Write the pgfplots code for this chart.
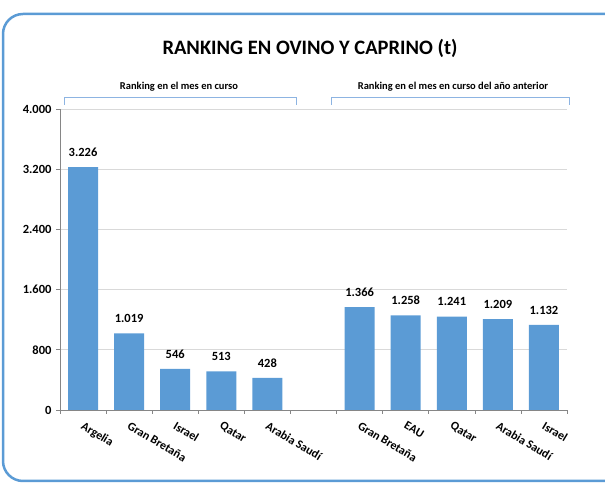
\documentclass[border=0pt]{standalone}
\usepackage{pgfplots}
\pgfplotsset{compat=1.18}
\usepackage{fontspec}
\setmainfont{Carlito}
\definecolor{barblue}{RGB}{91,155,213}
\definecolor{brk}{RGB}{141,180,226}
\definecolor{axgray}{RGB}{134,134,134}
\definecolor{gridgray}{RGB}{217,217,217}
\begin{document}
\begin{tikzpicture}
\path[use as bounding box] (0pt,0pt) rectangle (605pt,484pt);
\begin{scope}
\clip (0pt,0pt) rectangle (605pt,484pt);
\draw[barblue, line width=2.5pt, rounded corners=20pt] (3pt,3pt) rectangle (625pt,470pt);
\end{scope}
\node[font=\bfseries\fontsize{20.5}{24}\selectfont] at (310pt,436pt) {RANKING EN OVINO Y CAPRINO (t)};
\draw[brk, line width=0.8pt] (64pt,379pt) -- (64pt,387pt) -- (296pt,387pt) -- (296pt,379pt);
\draw[brk, line width=0.8pt] (331pt,379pt) -- (331pt,387pt) -- (569pt,387pt) -- (569pt,379pt);
\node[font=\bfseries\fontsize{10.5}{12}\selectfont] at (179pt,397pt) {Ranking en el mes en curso};
\node[font=\bfseries\fontsize{10.5}{12}\selectfont] at (453pt,397pt) {Ranking en el mes en curso del año anterior};
\begin{axis}[
  at={(60pt,74pt)}, anchor=south west, scale only axis,
  width=507pt, height=301pt,
  xmin=-0.5, xmax=10.5, ymin=0, ymax=4000,
  ytick={0,800,...,4000},
  ymajorgrids, grid style={draw=gridgray, line width=0.6pt},
  axis lines*=left, axis line style={draw=axgray, line width=0.6pt},
  tick align=outside, major tick length=4pt, minor tick length=4pt,
  tick style={draw=axgray, line width=0.6pt},
  xtick={0,1,2,3,4,6,7,8,9,10},
  xticklabels={Argelia,Gran Bretaña,Israel,Qatar,Arabia Saudí,Gran Bretaña,EAU,Qatar,Arabia Saudí,Israel},
  major x tick style={draw=none},
  minor xtick={-0.5,0.5,...,10.5},
  xticklabel style={rotate=-31, anchor=north west, font=\bfseries\fontsize{12}{14}\selectfont, inner sep=1pt, xshift=4pt, yshift=-4pt},
  yticklabel style={font=\bfseries\fontsize{12.5}{14}\selectfont, xshift=-1pt},
  /pgf/number format/.cd, 1000 sep={.}, assume math mode=true,
  /pgfplots/.cd,
  nodes near coords,
  every node near coord/.append style={font=\bfseries\fontsize{12.5}{14}\selectfont, yshift=7pt, black},
]
\addplot[ybar, fill=barblue, draw=none, bar width=0.65] coordinates {
(0,3226) (1,1019) (2,546) (3,513) (4,428)
(6,1366) (7,1258) (8,1241) (9,1209) (10,1132)};
\end{axis}
\end{tikzpicture}
\end{document}
